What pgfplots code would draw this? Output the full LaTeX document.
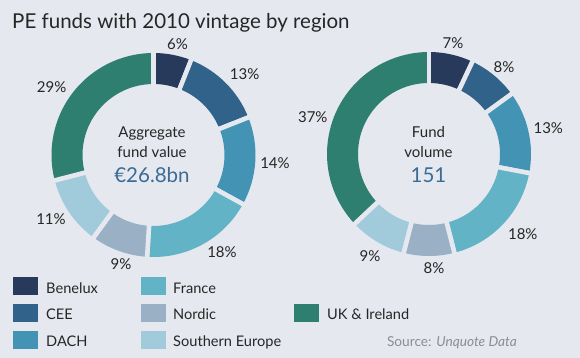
\documentclass[border=0pt]{standalone}
\usepackage{fontspec}
\setmainfont{Lato}
\usepackage{pgfplots}
\usepackage{pgfplotstable}
\pgfplotsset{compat=1.18}
\definecolor{bg}{HTML}{E5E8EE}
\definecolor{c0}{HTML}{273A5B}
\definecolor{c1}{HTML}{31628A}
\definecolor{c2}{HTML}{4393B4}
\definecolor{c3}{HTML}{62B3C6}
\definecolor{c4}{HTML}{9AB0C5}
\definecolor{c5}{HTML}{A1CADB}
\definecolor{c6}{HTML}{2E7F70}
\definecolor{txt}{HTML}{262626}
\definecolor{numc}{HTML}{3B6B97}
\definecolor{src}{HTML}{8A8E94}

% value, label centre x and label baseline y (pixels, y down)
\pgfplotstableread{
region value lx ly
Benelux 6 177.5 50
CEE 13 244.7 79.3
DACH 14 275 168.3
France 18 222 257.3
Nordic 9 121 269.3
Southern 11 51 225
UK 29 51.7 93
}\aggtable
\pgfplotstableread{
region value lx ly
Benelux 7 453 48.3
CEE 8 504 72.3
DACH 13 548.3 133.3
France 18 522.8 239.3
Nordic 8 434 273.3
Southern 9 370 261.7
UK 37 312.8 122.3
}\voltable

\newcommand\donut[3]{%
  \pgfmathsetmacro\dcx{#2}%
  \pgfmathsetmacro\dcy{358-#3}%
  \gdef\dcum{0}%
  \foreach \i in {0,...,6}{%
    \pgfplotstablegetelem{\i}{value}\of#1%
    \let\v\pgfplotsretval
    \pgfplotstablegetelem{\i}{lx}\of#1%
    \let\lx\pgfplotsretval
    \pgfplotstablegetelem{\i}{ly}\of#1%
    \pgfmathsetmacro\ly{358-\pgfplotsretval}%
    \pgfmathsetmacro\aone{90-3.6*\dcum}%
    \pgfmathsetmacro\atwo{90-3.6*(\dcum+\v)}%
    \pgfmathsetmacro\xa{\dcx+102*cos(\aone)}%
    \pgfmathsetmacro\ya{\dcy+102*sin(\aone)}%
    \pgfmathsetmacro\xb{\dcx+71*cos(\atwo)}%
    \pgfmathsetmacro\yb{\dcy+71*sin(\atwo)}%
    \fill[c\i] (axis cs:\xa,\ya) arc[start angle=\aone,end angle=\atwo,radius=102pt]
       -- (axis cs:\xb,\yb) arc[start angle=\atwo,end angle=\aone,radius=71pt] -- cycle;
    \foreach \a in {\aone,\atwo}{%
      \pgfmathsetmacro\xi{\dcx+66*cos(\a)}%
      \pgfmathsetmacro\yi{\dcy+66*sin(\a)}%
      \pgfmathsetmacro\xo{\dcx+107*cos(\a)}%
      \pgfmathsetmacro\yo{\dcy+107*sin(\a)}%
      \draw[bg,line width=4.5pt] (axis cs:\xi,\yi) -- (axis cs:\xo,\yo);
    }%
    \node[anchor=base,inner sep=0pt,text=txt,font=\fontsize{15}{18}\selectfont] at (axis cs:\lx,\ly) {\v\%};
    \pgfmathsetmacro\newcum{\dcum+\v}%
    \global\let\dcum\newcum
  }%
}

\begin{document}
\begin{tikzpicture}
\begin{axis}[
  x=1pt, y=1pt,
  xmin=0, xmax=580, ymin=0, ymax=358,
  hide axis, clip=false,
]
\pgfplotsextra{%
  \fill[bg] (axis cs:0,0) rectangle (axis cs:580,358);
  \node[anchor=base west,inner sep=0pt,text=txt,font=\fontsize{20.5}{24}\selectfont] at (axis cs:12,{358-28.5}) {PE funds with 2010 vintage by region};
  \donut{\aggtable}{153.5}{155}
  \donut{\voltable}{429}{154}
  % centre texts
  \node[anchor=base,inner sep=0pt,text=txt,font=\fontsize{15}{18}\selectfont] at (axis cs:152,{358-138}) {Aggregate};
  \node[anchor=base,inner sep=0pt,text=txt,font=\fontsize{15}{18}\selectfont] at (axis cs:152,{358-158}) {fund value};
  \node[anchor=base,inner sep=0pt,text=numc,font=\fontsize{20.5}{24}\selectfont] at (axis cs:152,{358-183}) {€26.8bn};
  \node[anchor=base,inner sep=0pt,text=txt,font=\fontsize{15}{18}\selectfont] at (axis cs:428.5,{358-138}) {Fund};
  \node[anchor=base,inner sep=0pt,text=txt,font=\fontsize{15}{18}\selectfont] at (axis cs:428.5,{358-158}) {volume};
  \node[anchor=base,inner sep=0pt,text=numc,font=\fontsize{20.5}{24}\selectfont] at (axis cs:428.5,{358-183}) {151};
  % legend
  \fill[c0] (axis cs:13,{358-295}) rectangle (axis cs:38,{358-277});
  \fill[c1] (axis cs:13,{358-322}) rectangle (axis cs:38,{358-304});
  \fill[c2] (axis cs:13,{358-349}) rectangle (axis cs:38,{358-331});
  \fill[c3] (axis cs:141,{358-295}) rectangle (axis cs:166,{358-277});
  \fill[c4] (axis cs:141,{358-322}) rectangle (axis cs:166,{358-304});
  \fill[c5] (axis cs:141,{358-349}) rectangle (axis cs:166,{358-331});
  \fill[c6] (axis cs:294,{358-322}) rectangle (axis cs:319,{358-304});
  \begin{scope}[every node/.style={anchor=base west,inner sep=0pt,text=txt,font=\fontsize{14.6}{18}\selectfont}]
  \node at (axis cs:46,{358-293.5}) {Benelux};
  \node at (axis cs:46,{358-320}) {CEE};
  \node at (axis cs:46,{358-346.5}) {DACH};
  \node at (axis cs:173,{358-293.5}) {France};
  \node at (axis cs:173,{358-320}) {Nordic};
  \node at (axis cs:173,{358-346.5}) {Southern Europe};
  \node at (axis cs:327,{358-320}) {UK \& Ireland};
  \end{scope}
  \node[anchor=base east,inner sep=0pt,text=src,font=\fontsize{13.7}{17}\selectfont] at (axis cs:517,{358-346.5}) {Source: \textit{Unquote Data}};
}
\end{axis}
\end{tikzpicture}
\end{document}
